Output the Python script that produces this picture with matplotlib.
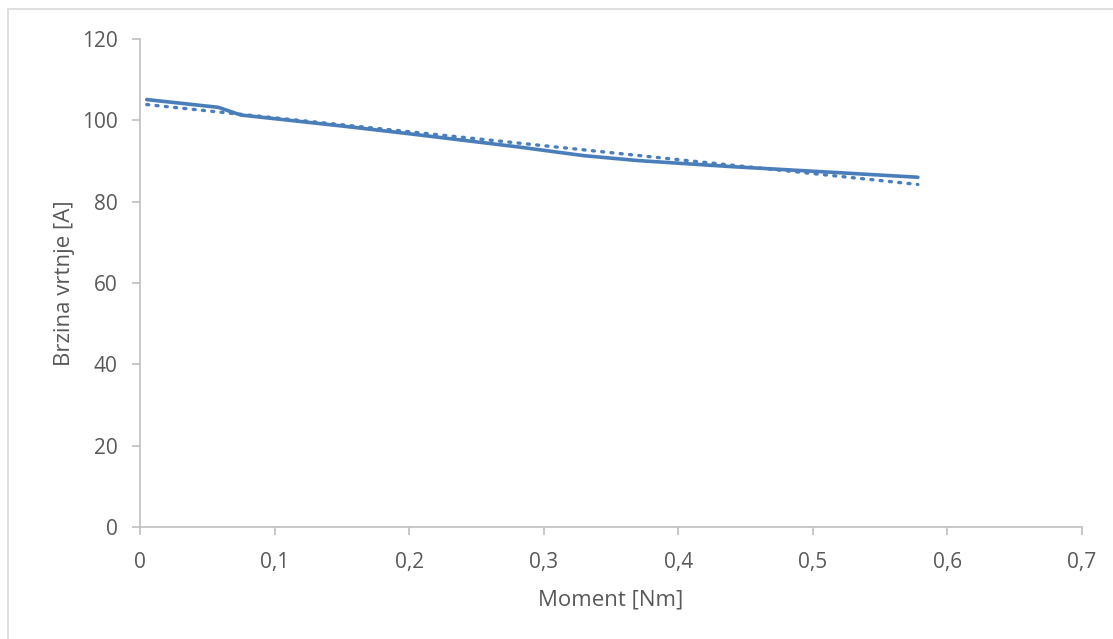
import matplotlib.pyplot as plt
import numpy as np
from matplotlib.patches import Rectangle
from matplotlib.ticker import FuncFormatter

# measured points (moment vs speed)
moment = [0.005, 0.058, 0.075, 0.15, 0.2, 0.28, 0.33, 0.37, 0.44, 0.515, 0.578]
brzina = [105.1, 103.2, 101.3, 98.6, 96.7, 93.5, 91.3, 90.1, 88.6, 87.2, 86.0]

xticks = [0, 0.1, 0.2, 0.3, 0.4, 0.5, 0.6, 0.7]
yticks = [0, 20, 40, 60, 80, 100, 120]

blue = '#4A7EBB'
grey = '#595959'
plt.rcParams['font.family'] = ['Open Sans', 'DejaVu Sans']

fig = plt.figure(figsize=(11.13, 6.39), dpi=100)
ax = fig.add_axes([0.1258, 0.1753, 0.8464, 0.7637])

ax.plot(moment, brzina, color=blue, lw=2.6, solid_capstyle='round')

# linear trend line, like excel
k, n = np.polyfit(moment, brzina, 1)
tx = np.array([moment[0], moment[-1]])
ax.plot(tx, k * tx + n, color=blue, lw=2.4, ls=(0, (0.6, 2.2)), dash_capstyle='round')

ax.set_xlim(0, 0.7)
ax.set_ylim(0, 120)
ax.set_xticks(xticks)
ax.set_yticks(yticks)
fmt = FuncFormatter(lambda v, p: ('%g' % v).replace('.', ','))
ax.xaxis.set_major_formatter(fmt)
for s in ['top', 'right']:
    ax.spines[s].set_visible(False)
for s in ['left', 'bottom']:
    ax.spines[s].set_color('#BFBFBF')
    ax.spines[s].set_linewidth(1.2)
ax.tick_params(colors='#BFBFBF', labelcolor=grey, labelsize=15, length=6, width=1.2)
ax.tick_params(axis='x', pad=12)
ax.tick_params(axis='y', pad=10)

ax.set_xlabel('Moment [Nm]', fontsize=16, color=grey, labelpad=12)
ax.set_ylabel('Brzina vrtnje [A]', fontsize=16, color=grey, labelpad=5)

fig.patches.append(Rectangle((7.5 / 1113, -0.1), 1.2, 1.1 - 9 / 639,
                             transform=fig.transFigure, fill=False,
                             ec='#D9D9D9', lw=1.2))

fig.savefig('out.png', dpi=100)
